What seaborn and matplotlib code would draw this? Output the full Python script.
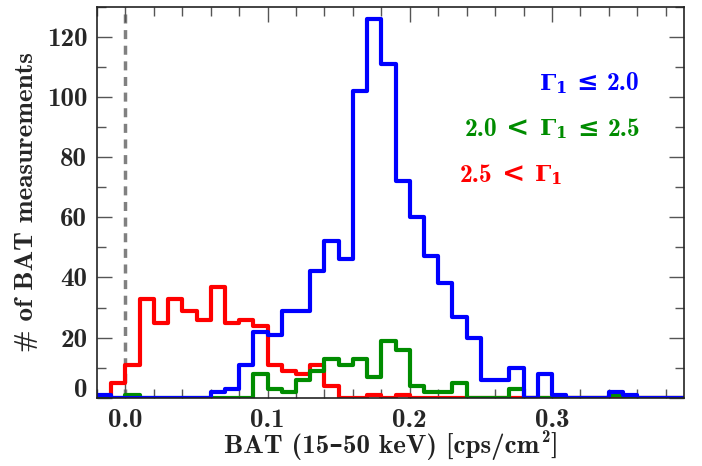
import numpy as np
import pandas as pd
import matplotlib
matplotlib.use("Agg")
import matplotlib.pyplot as plt
import matplotlib.transforms as mtransforms
from matplotlib.ticker import MultipleLocator, FuncFormatter
import seaborn as sns

# ---- data (counts per 0.01 cps/cm^2 bin, bins from -0.02 to 0.40) ----
bin_edges = [round(float(v), 3) for v in np.linspace(-0.02, 0.40, 43)]
counts_hard = [1, 0, 0, 0, 0, 0, 0, 0, 2, 3, 11, 22, 21, 29, 29, 42, 52, 46, 102, 126,
               111, 72, 60, 47, 38, 27, 20, 6, 6, 10, 0, 8, 1, 0, 0, 0, 2, 1, 0, 0, 0, 0]
counts_mid = [0, 0, 1, 0, 0, 0, 0, 0, 0, 0, 0, 8, 3, 2, 6, 9, 13, 11, 13, 7,
              19, 16, 4, 2, 2, 5, 0, 0, 0, 3, 0, 0, 0, 0, 0, 0, 1, 0, 0, 0, 0, 0]
counts_soft = [0, 5, 11, 33, 25, 33, 29, 26, 37, 25, 26, 24, 11, 9, 8, 11, 4, 0, 0, 1,
               0, 1, 0, 0, 0, 0, 0, 0, 0, 0, 0, 0, 0, 0, 0, 0, 0, 0, 0, 0, 0, 0]
colors = ["#0000ff", "#008c00", "#ff0000"]
xlabel_main, xlabel_sup, xlabel_end = "BAT (15–50 keV) [cps/cm", "2", "]"
ylabel = "# of BAT measurements"

edges_arr = np.array(bin_edges)
centers = (edges_arr[:-1] + edges_arr[1:]) / 2
df = pd.DataFrame({"center": centers, "hard": counts_hard,
                   "mid": counts_mid, "soft": counts_soft})

sns.set_style("ticks")
plt.rcParams["mathtext.fontset"] = "custom"
plt.rcParams["mathtext.rm"] = "DejaVu Serif:bold"
plt.rcParams["mathtext.bf"] = "DejaVu Serif:bold"
plt.rcParams["mathtext.it"] = "DejaVu Serif:bold"
plt.rcParams["font.family"] = ["cmb10", "DejaVu Serif"]
plt.rcParams["font.weight"] = "bold"
plt.rcParams["axes.unicode_minus"] = False

W, H = 702, 466
fig = plt.figure(figsize=(W / 100, H / 100), dpi=100)
ax = fig.add_axes([97 / W, 1 - 397.7 / H, (683.5 - 97) / W, (397.7 - 7) / H])

for col, c in [("soft", colors[2]), ("mid", colors[1]), ("hard", colors[0])]:
    sns.histplot(data=df, x="center", weights=col, bins=bin_edges, element="step",
                 fill=False, color=c, linewidth=3.0, ax=ax)

ax.axvline(0.0, color="#808080", linewidth=2.5, linestyle=(0, (2.6, 1.9)), zorder=0)

ax.set_xlim(-0.02, 0.3925)
ax.set_ylim(0, 130)

ax.xaxis.set_major_locator(MultipleLocator(0.1))
ax.xaxis.set_minor_locator(MultipleLocator(0.02))
ax.yaxis.set_major_locator(MultipleLocator(20))
ax.yaxis.set_minor_locator(MultipleLocator(10))
ax.xaxis.set_major_formatter(FuncFormatter(lambda v, p: "%.1f" % (abs(v) if abs(v) < 1e-9 else v)))
ax.yaxis.set_major_formatter(FuncFormatter(lambda v, p: "%d" % round(v)))

ax.tick_params(which="both", direction="in", top=True, right=True,
               color="#555555", width=1.0, labelsize=19.5)
ax.tick_params(axis="x", pad=8)
ax.tick_params(axis="y", pad=7)
ax.tick_params(which="major", length=10.5)
ax.tick_params(which="minor", length=6.5)
for s in ax.spines.values():
    s.set_linewidth(1.2)
    s.set_color("#222222")

ax.set_xlabel("")
ax.set_ylabel(ylabel, fontsize=19.5, labelpad=6)

fig.canvas.draw()
renderer = fig.canvas.get_renderer()
ident = mtransforms.IdentityTransform()

CM = dict(family=["cmb10", "DejaVu Serif"], weight="bold")
DV = dict(family=["DejaVu Serif"], weight="bold")


def place_pieces(x, y_top, pieces, ha, color):
    """pieces: (text, fontprops, size, raise_px, gap_after_px); y_top = baseline from top."""
    y = H - y_top
    objs, widths, gaps = [], [], []
    for s, props, size, dy, gap in pieces:
        t = fig.text(0, 0, s, transform=ident, fontsize=size, ha="left",
                     va="baseline", color=color, **props)
        objs.append((t, dy))
        widths.append(t.get_window_extent(renderer).width)
        gaps.append(gap)
    total = sum(widths) + sum(gaps[:-1])
    cur = x - total if ha == "right" else (x - total / 2 if ha == "center" else x)
    for (t, dy), w, g in zip(objs, widths, gaps):
        t.set_position((cur, y + dy))
        cur += w + g


G1 = (r"$\Gamma_1$", DV, 16.5, 0, 10)
LE = ("≤", DV, 18.5, 0, 9)
LT = ("<", DV, 20, 0, 9)

place_pieces(640, 90.5, [G1, LE, ("2.0", CM, 18.5, 0, 0)], "right", colors[0])
place_pieces(640, 135.5, [("2.0", CM, 18.5, 0, 9), LT, G1, LE,
                          ("2.5", CM, 18.5, 0, 0)], "right", colors[1])
place_pieces(460, 181.5, [("2.5", CM, 18.5, 0, 9), LT,
                          (r"$\Gamma_1$", DV, 16.5, 0, 0)], "left", colors[2])

place_pieces(391, 452.5, [(xlabel_main, CM, 19.5, 0, 1), (xlabel_sup, CM, 12, 10, 1),
                          (xlabel_end, CM, 19.5, 0, 0)], "center", "#222222")

for t in ax.yaxis.get_major_ticks():
    if abs(t.get_loc()) < 1e-9:
        t.label1.set_transform(t.label1.get_transform() +
                               mtransforms.ScaledTranslation(0, 7 / 72, fig.dpi_scale_trans))

fig.savefig("out.png", dpi=100)
